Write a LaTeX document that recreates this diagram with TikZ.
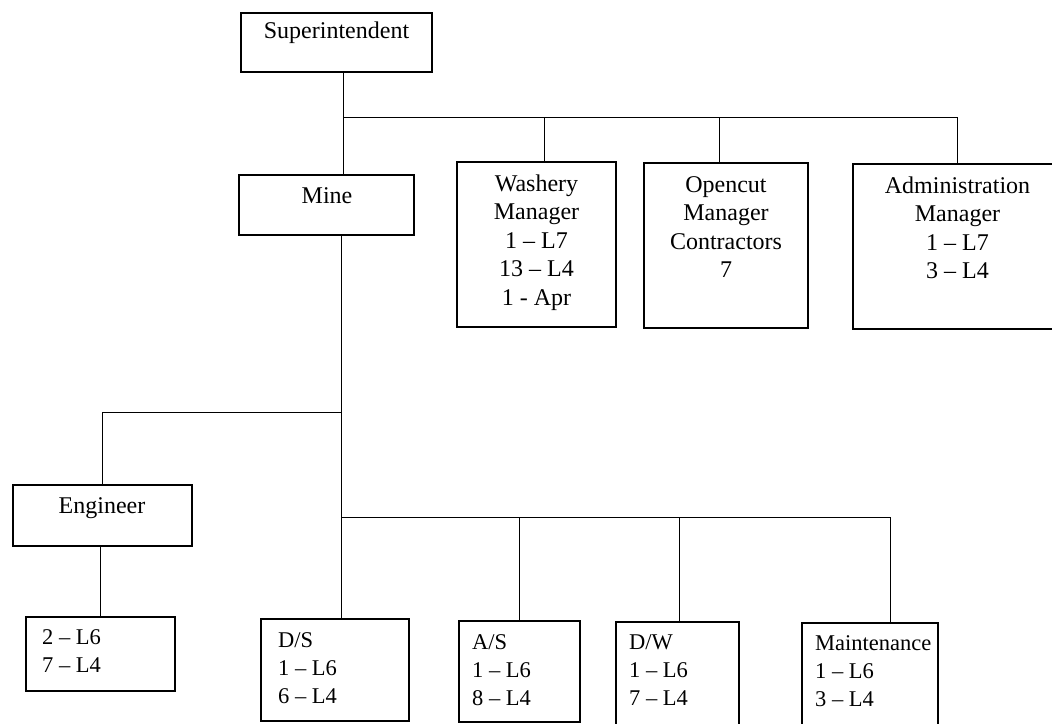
\documentclass[tikz,border=0pt]{standalone}
\usepackage{fontspec}
\setmainfont{Liberation Serif}
\begin{document}
\begin{tikzpicture}[x=1pt,y=-1pt,
  box/.style={draw=black,line width=1.1pt,rectangle,inner sep=0pt,outer sep=0pt,anchor=north west},
  txt/.style={inner sep=0pt,font=\fontsize{24}{28.5}\selectfont},
  txtb/.style={inner sep=0pt,font=\fontsize{22.5}{28}\selectfont},
  link/.style={draw=black,line width=1pt}]
\useasboundingbox (0,0) rectangle (1052,723);
\clip (0,0) rectangle (1052,723);
\fill[white] (0,0) rectangle (1052,723);
% boxes
\node[box,minimum width=191pt,minimum height=59pt] (sup) at (241,13) {};
\node[box,minimum width=175pt,minimum height=60pt] (mine) at (239,175) {};
\node[box,minimum width=159pt,minimum height=165pt] (wash) at (457,162) {};
\node[box,minimum width=164pt,minimum height=165pt] (open) at (644,163) {};
\node[box,minimum width=210pt,minimum height=165pt] (admin) at (853,164) {};
\node[box,minimum width=179pt,minimum height=61pt] (eng) at (13,485) {};
\node[box,minimum width=149pt,minimum height=74pt] (engsub) at (26,617) {};
\node[box,minimum width=148pt,minimum height=102pt] (ds) at (261,619) {};
\node[box,minimum width=121pt,minimum height=101pt] (as) at (459,621) {};
\node[box,minimum width=123pt,minimum height=110pt] (dw) at (616,622) {};
\node[box,minimum width=136pt,minimum height=110pt] (maint) at (802,623) {};
% texts (anchor=base is the baseline of the last line)
\node[txt,anchor=base] (supT) at (336.5,38) {Superintendent};
\node[txt,anchor=base] (mineT) at (327,203) {Mine};
\node[txt,align=center,anchor=base] (washT) at (536.5,305) {Washery\\Manager\\1 – L7\\13 – L4\\1 - Apr};
\node[txt,align=center,anchor=base] (openT) at (726,277.5) {Opencut\\Manager\\Contractors\\7};
\node[txt,align=center,anchor=base] (adminT) at (957.5,278.5) {Administration\\Manager\\1 – L7\\3 – L4};
\node[txt,anchor=base] (engT) at (102,513) {Engineer};
\node[txtb,align=left,anchor=base west] (engsubT) at (42,672) {2 – L6\\7 – L4};
\node[txtb,align=left,anchor=base west] (dsT) at (278,703) {D/S\\1 – L6\\6 – L4};
\node[txtb,align=left,anchor=base west] (asT) at (472,705) {A/S\\1 – L6\\8 – L4};
\node[txtb,align=left,anchor=base west] (dwT) at (629,705) {D/W\\1 – L6\\7 – L4};
\node[txtb,align=left,anchor=base west] (maintT) at (815,706) {Maintenance\\1 – L6\\3 – L4};
% junctions
\coordinate (topbus) at (343,117);
\coordinate (washx) at (544,117);
\coordinate (openx) at (719,117);
\coordinate (adminx) at (957,117);
\coordinate (minex) at (341,235);
\coordinate (engbr) at (341,412);
\coordinate (engx) at (102,412);
\coordinate (engsubx) at (100,546);
\coordinate (lowbus) at (341,517);
\coordinate (asx) at (519,517);
\coordinate (dwx) at (679,517);
\coordinate (maintx) at (890,517);
% connectors
\draw[link] (topbus |- sup.south) -- (topbus |- mine.north);
\draw[link] (topbus) -- (adminx) -- (adminx |- admin.north);
\draw[link] (washx) -- (washx |- wash.north);
\draw[link] (openx) -- (openx |- open.north);
\draw[link] (minex |- mine.south) -- (minex |- ds.north);
\draw[link] (engbr) -- (engx) -- (engx |- eng.north);
\draw[link] (engsubx |- eng.south) -- (engsubx |- engsub.north);
\draw[link] (lowbus) -- (maintx) -- (maintx |- maint.north);
\draw[link] (asx) -- (asx |- as.north);
\draw[link] (dwx) -- (dwx |- dw.north);
\end{tikzpicture}
\end{document}
